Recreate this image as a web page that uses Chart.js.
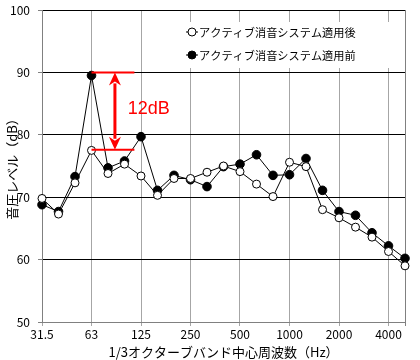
<!DOCTYPE html>
<html>
<head>
<meta charset="utf-8">
<script src="https://cdn.jsdelivr.net/npm/chart.js@4.4.1/dist/chart.umd.min.js"></script>
<style>
  html, body { margin: 0; padding: 0; background: #fff; }
  #wrap { width: 420px; height: 360px; position: relative; }
</style>
</head>
<body>
<div id="wrap"><canvas id="c"></canvas></div>
<script>
// 1/3オクターブバンド中心周波数
const bandLabels = ["31.5","40","50","63","80","100","125","160","200","250","315","400","500","630","800","1000","1250","1600","2000","2500","3150","4000","5000"];
const octaveLabels = ["31.5","63","125","250","500","1000","2000","4000"];
const afterLevels  = [69.8, 67.3, 72.3, 77.5, 73.8, 75.3, 73.4, 70.3, 73.0, 73.0, 74.0, 75.0, 74.1, 72.1, 70.1, 75.6, 74.9, 68.0, 66.7, 65.2, 63.6, 61.3, 59.0];
const beforeLevels = [68.8, 67.7, 73.3, 89.5, 74.7, 75.8, 79.7, 71.1, 73.5, 72.8, 71.7, 74.9, 75.3, 76.8, 73.5, 73.6, 76.2, 71.1, 67.7, 67.1, 64.3, 62.2, 60.2];
const seriesNames = ["アクティブ消音システム適用後", "アクティブ消音システム適用前"];
const yTicks = [50, 60, 70, 80, 90, 100];

// 12dB 注記 (x はバンド番号, y は dB)
const noteX = [3, 5.6];
const noteArrowX = 4.42;
const noteLevels = [90, 77.6];
const noteText = "12dB";
const noteTextPos = [5.2, 84.2];

const RED = "#ff0000";

const notePlugin = {
  id: "note12dB",
  afterDatasetsDraw(chart) {
    const ctx = chart.ctx, xs = chart.scales.x, ys = chart.scales.y;
    const x1 = xs.getPixelForValue(noteX[0]), x2 = xs.getPixelForValue(noteX[1]);
    const yTop = ys.getPixelForValue(noteLevels[0]), yBot = ys.getPixelForValue(noteLevels[1]);
    const ax = xs.getPixelForValue(noteArrowX);
    ctx.save();
    ctx.strokeStyle = RED; ctx.fillStyle = RED;
    ctx.lineWidth = 2;
    ctx.beginPath();
    ctx.moveTo(x1, yTop); ctx.lineTo(x2, yTop);
    ctx.moveTo(x1, yBot); ctx.lineTo(x2, yBot);
    ctx.stroke();
    // 両矢印
    const hl = 13, hw = 6;
    ctx.lineWidth = 3;
    ctx.beginPath();
    ctx.moveTo(ax, yTop + hl - 2); ctx.lineTo(ax, yBot - hl + 2);
    ctx.stroke();
    ctx.beginPath();
    ctx.moveTo(ax, yTop); ctx.lineTo(ax - hw, yTop + hl); ctx.lineTo(ax, yTop + hl - 4); ctx.lineTo(ax + hw, yTop + hl); ctx.closePath();
    ctx.fill();
    ctx.beginPath();
    ctx.moveTo(ax, yBot); ctx.lineTo(ax - hw, yBot - hl); ctx.lineTo(ax, yBot - hl + 4); ctx.lineTo(ax + hw, yBot - hl); ctx.closePath();
    ctx.fill();
    ctx.font = "18px 'Liberation Sans'";
    ctx.textBaseline = "middle"; ctx.textAlign = "left";
    ctx.fillText(noteText, xs.getPixelForValue(noteTextPos[0]), ys.getPixelForValue(noteTextPos[1]));
    ctx.restore();
  }
};

const legendPlugin = {
  id: "innerLegend",
  afterDatasetsDraw(chart) {
    const ctx = chart.ctx;
    const bx = 186, by = 22, bw = 216, bh = 46;
    ctx.save();
    ctx.fillStyle = "#fff";
    ctx.fillRect(bx, by, bw, bh);
    ctx.font = "11.2px 'Noto Sans CJK JP'";
    ctx.textBaseline = "middle"; ctx.textAlign = "left";
    chart.data.datasets.forEach((ds, i) => {
      const cy = 32 + i * 23, cx = 192;
      ctx.strokeStyle = "#000"; ctx.lineWidth = 1;
      ctx.beginPath(); ctx.moveTo(186, cy); ctx.lineTo(198, cy); ctx.stroke();
      ctx.beginPath(); ctx.arc(cx, cy, 4, 0, Math.PI * 2);
      ctx.fillStyle = ds.pointBackgroundColor; ctx.fill(); ctx.stroke();
      ctx.fillStyle = "#000";
      ctx.fillText(ds.label, 199, cy + 1);
    });
    ctx.restore();
  }
};

const gridFor = (ctx) => {
  const lab = bandLabels[ctx.index];
  if (ctx.index === bandLabels.length - 1) return "#808080";
  return octaveLabels.includes(lab) ? "#a6a6a6" : "rgba(0,0,0,0)";
};

new Chart(document.getElementById("c").getContext("2d"), {
  type: "line",
  data: {
    labels: bandLabels,
    datasets: [
      { label: seriesNames[0], data: afterLevels, borderColor: "#000", borderWidth: 1,
        pointBackgroundColor: "#fff", pointBorderColor: "#000", pointBorderWidth: 1, pointRadius: 4, tension: 0 },
      { label: seriesNames[1], data: beforeLevels, borderColor: "#000", borderWidth: 1,
        pointBackgroundColor: "#000", pointBorderColor: "#000", pointBorderWidth: 1, pointRadius: 4.3, tension: 0 }
    ]
  },
  options: {
    responsive: true, maintainAspectRatio: false, animation: false,
    layout: { padding: { left: 0, right: 15, top: 10, bottom: 0 } },
    plugins: { legend: { display: false }, tooltip: { enabled: false } },
    scales: {
      x: {
        type: "category", offset: false,
        afterFit: s => { s.height = 38; },
        border: { color: "#808080", width: 1 },
        grid: { color: gridFor, tickColor: gridFor, tickLength: 4, drawOnChartArea: true },
        ticks: {
          autoSkip: false, maxRotation: 0, padding: 1, color: "#000",
          font: { family: "'Noto Sans CJK JP'", size: 12 },
          callback: (v, i) => octaveLabels.includes(bandLabels[i]) ? bandLabels[i] : ""
        },
        title: { display: true, text: "1/3オクターブバンド中心周波数（Hz）", color: "#000",
          font: { family: "'Noto Sans CJK JP'", size: 13 }, padding: { top: 0, bottom: 0 } }
      },
      y: {
        min: yTicks[0], max: yTicks[yTicks.length - 1],
        afterFit: s => { s.width = 42; s.paddingTop = 0; s.paddingBottom = 0; },
        afterBuildTicks: s => { s.ticks = yTicks.map(v => ({ value: v })); },
        border: { color: "#808080", width: 1 },
        grid: {
          color: c => c.tick && c.tick.value === yTicks[0] ? "rgba(0,0,0,0)" : "#000",
          tickColor: "#808080", tickLength: 4
        },
        ticks: { padding: 8, color: "#000", font: { family: "'Noto Sans CJK JP'", size: 12 } },
        title: { display: true, text: "音圧レベル（dB）", color: "#000",
          font: { family: "'Noto Sans CJK JP'", size: 13 }, padding: { top: 4, bottom: 0 } }
      }
    }
  },
  plugins: [legendPlugin, notePlugin]
});
</script>
</body>
</html>
